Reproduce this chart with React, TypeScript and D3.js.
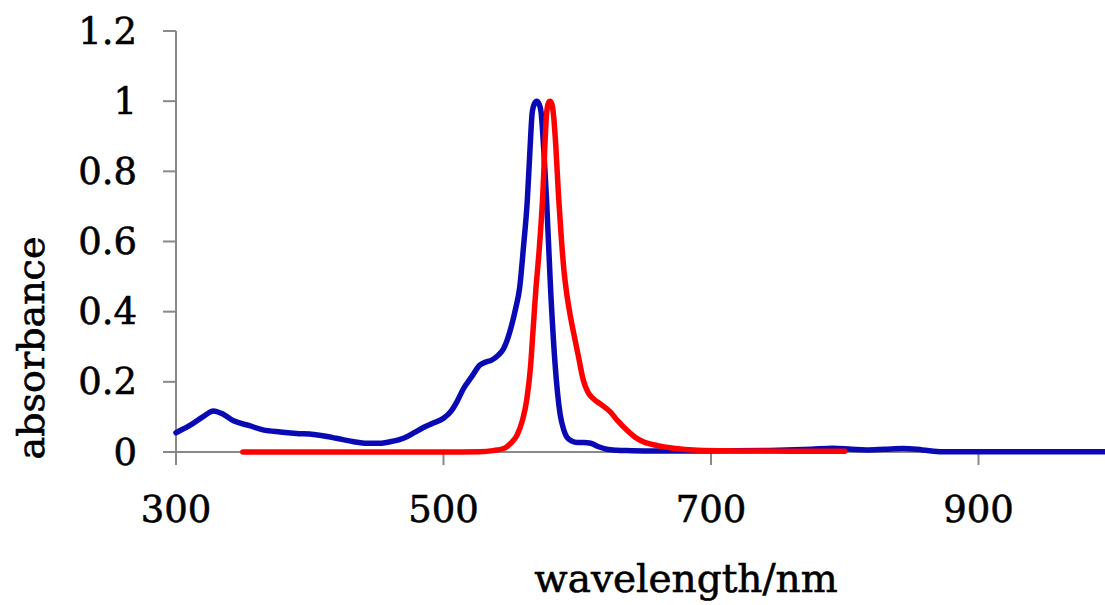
import React from "react";
import * as d3 from "d3";

const blueWavelength = [300, 310, 320, 328, 335, 343, 355, 365, 378, 390, 403, 412, 420, 432, 443, 452, 460, 470, 478, 485, 492, 500, 506, 510, 515, 521, 527, 532, 536, 541, 545, 551, 554, 557, 559.7, 562.7, 564.5, 566.4, 568, 569.7, 571.3, 572.9, 575, 577.1, 580, 583.4, 587.1, 590, 592, 596, 600, 605, 610, 616, 622, 630, 637, 650, 700, 750, 775, 791, 805, 816, 830, 844, 858, 873, 900, 950, 1000];
const blueAbsorbance = [0.055, 0.075, 0.1, 0.117, 0.108, 0.089, 0.075, 0.063, 0.057, 0.053, 0.05, 0.045, 0.039, 0.03, 0.025, 0.025, 0.029, 0.039, 0.055, 0.07, 0.082, 0.096, 0.118, 0.143, 0.181, 0.214, 0.247, 0.257, 0.262, 0.276, 0.295, 0.362, 0.41, 0.47, 0.58, 0.72, 0.85, 0.97, 0.993, 1.0, 0.993, 0.97, 0.86, 0.716, 0.47, 0.252, 0.11, 0.062, 0.044, 0.031, 0.027, 0.027, 0.025, 0.015, 0.008, 0.005, 0.004, 0.003, 0.003, 0.005, 0.008, 0.011, 0.008, 0.006, 0.008, 0.01, 0.006, 0.001, 0.001, 0.001, 0.001];

const redWavelength = [350, 400, 450, 500, 527, 537, 545, 550, 555, 559, 562.2, 565, 567, 569, 571.5, 574, 577.2, 578.5, 579.6, 580.7, 582, 584, 586, 588, 590, 592, 594.5, 597, 601, 604.5, 608, 612, 618, 624.5, 630, 637, 643, 649.4, 660, 671.8, 690, 720, 760, 800];
const redAbsorbance = [0, 0, 0, 0, 0.001, 0.004, 0.01, 0.024, 0.048, 0.09, 0.148, 0.24, 0.35, 0.46, 0.574, 0.716, 0.97, 0.995, 1.0, 0.995, 0.97, 0.87, 0.73, 0.615, 0.52, 0.455, 0.395, 0.345, 0.27, 0.205, 0.17, 0.152, 0.135, 0.115, 0.09, 0.0625, 0.043, 0.029, 0.018, 0.0105, 0.005, 0.003, 0.002, 0.002];

const xTicks = [300, 500, 700, 900];
const yTicks = [0, 0.2, 0.4, 0.6, 0.8, 1, 1.2];

const W = 1105;
const H = 605;
const FONT = "'DejaVu Serif', serif";

export default function App() {
  const x = d3.scaleLinear().domain([300, 1000]).range([176, 176 + 700 * 1.3375]);
  const y = d3.scaleLinear().domain([0, 1.2]).range([452, 31]);

  const line = d3
    .line<[number, number]>()
    .x((d) => x(d[0]))
    .y((d) => y(d[1]))
    .curve(d3.curveMonotoneX);

  const blue = line(blueWavelength.map((w, i) => [w, blueAbsorbance[i]]) as [number, number][]) || "";
  const red = line(redWavelength.map((w, i) => [w, redAbsorbance[i]]) as [number, number][]) || "";

  const axisColor = "#898989";
  const textStyle = { stroke: "#000", strokeWidth: 0.6 } as React.CSSProperties;

  return (
    <div style={{ position: "fixed", left: 0, top: 0, width: W, height: H, background: "#fff" }}>
      <svg width={W} height={H} style={{ display: "block" }}>
        <rect width={W} height={H} fill="#fff" />
        {/* y axis */}
        <line x1={x(300)} x2={x(300)} y1={y(1.2)} y2={y(0) + 13} stroke={axisColor} strokeWidth={2} />
        {yTicks.map((t) => (
          <g key={"y" + t}>
            <line x1={x(300) - 13} x2={x(300)} y1={y(t)} y2={y(t)} stroke={axisColor} strokeWidth={2} />
            <text
              x={137}
              y={y(t)}
              textAnchor="end"
              dominantBaseline="central"
              fontFamily={FONT}
              fontSize={37}
              fill="#000"
              style={textStyle}
            >
              {String(t)}
            </text>
          </g>
        ))}
        {/* x axis */}
        <line x1={x(300)} x2={W} y1={y(0)} y2={y(0)} stroke={axisColor} strokeWidth={2} />
        {xTicks.map((t) => (
          <g key={"x" + t}>
            <line x1={x(t)} x2={x(t)} y1={y(0)} y2={y(0) + 13} stroke={axisColor} strokeWidth={2} />
            <text x={x(t)} y={522} textAnchor="middle" fontFamily={FONT} fontSize={37} fill="#000" style={textStyle}>
              {String(t)}
            </text>
          </g>
        ))}
        <path d={blue} fill="none" stroke="#0a0ab4" strokeWidth={5.5} strokeLinejoin="round" strokeLinecap="round" />
        <path d={red} fill="none" stroke="#ff0000" strokeWidth={5.5} strokeLinejoin="round" strokeLinecap="round" />
        <text x={686} y={592} textAnchor="middle" fontFamily={FONT} fontSize={39} fill="#000" style={textStyle}>
          wavelength/nm
        </text>
        <text
          transform="translate(44,348) rotate(-90)"
          textAnchor="middle"
          fontFamily={FONT}
          fontSize={38}
          fill="#000"
          style={textStyle}
        >
          absorbance
        </text>
      </svg>
    </div>
  );
}
